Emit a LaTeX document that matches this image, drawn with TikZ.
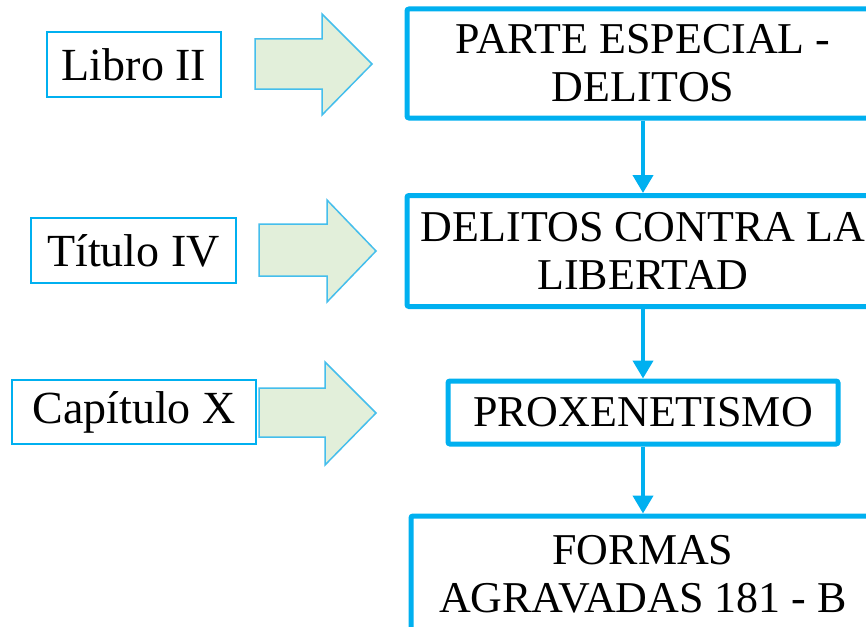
\documentclass[tikz,border=0pt]{standalone}
\usepackage{fontspec}
\setmainfont{Liberation Serif}
\usetikzlibrary{arrows.meta}
\definecolor{boxblue}{HTML}{00B0F0}
\definecolor{arrowfill}{HTML}{E2EFDA}
\definecolor{arrowline}{HTML}{45BEEC}
\begin{document}
\begin{tikzpicture}[x=1pt,y=-1pt,
  mainbox/.style={draw=boxblue, line width=5pt, rounded corners=2pt, align=center, inner sep=0pt, font=\fontsize{44}{48}\selectfont},
  sidebox/.style={draw=boxblue, line width=1.8pt, inner sep=0pt, font=\fontsize{46}{50}\selectfont},
  blockarrow/.style={fill=arrowfill, draw=arrowline, line width=1.5pt, line join=miter},
  link/.style={draw=boxblue, line width=4pt, -{Triangle[length=18pt,width=20pt]}}
]
\useasboundingbox (0,0) rectangle (866,626);
\fill[white] (0,0) rectangle (866,626);
\begin{scope}
\clip (0,0) rectangle (866,626);
% main column
\node[mainbox, minimum width=472pt, minimum height=109pt] (b1) at (643,63.5) {PARTE ESPECIAL -\\DELITOS};
\node[mainbox, minimum width=472pt, minimum height=111pt] (b2) at (643,251) {DELITOS CONTRA LA\\LIBERTAD};
\node[mainbox, minimum width=390pt, minimum height=63pt] (b3) at (643,412.5) {PROXENETISMO};
\node[mainbox, minimum width=464pt, minimum height=116pt] (b4) at (643,574) {FORMAS\\AGRAVADAS 181 - B};
% side labels
\node[sidebox, minimum width=174pt, minimum height=65pt] (s1) at (134,64.5) {Libro II};
\node[sidebox, minimum width=205pt, minimum height=65pt] (s2) at (133.5,250.5) {Título IV};
\node[sidebox, minimum width=244pt, minimum height=64pt] (s3) at (134,412) {Capítulo X};
% block arrows
\draw[blockarrow] (255,39) -- (322,39) -- (322,14) -- (372,64) -- (322,115) -- (322,89) -- (255,89) -- cycle;
\draw[blockarrow] (259,224) -- (327,224) -- (327,200) -- (376,251) -- (327,302) -- (327,276) -- (259,276) -- cycle;
\draw[blockarrow] (259,388) -- (325,388) -- (325,362) -- (376,413) -- (325,465) -- (325,437) -- (259,437) -- cycle;
% connectors
\draw[link] (b1) -- (b2);
\draw[link] (b2) -- (b3);
\draw[link] (b3) -- (b4);
\end{scope}
\end{tikzpicture}
\end{document}
